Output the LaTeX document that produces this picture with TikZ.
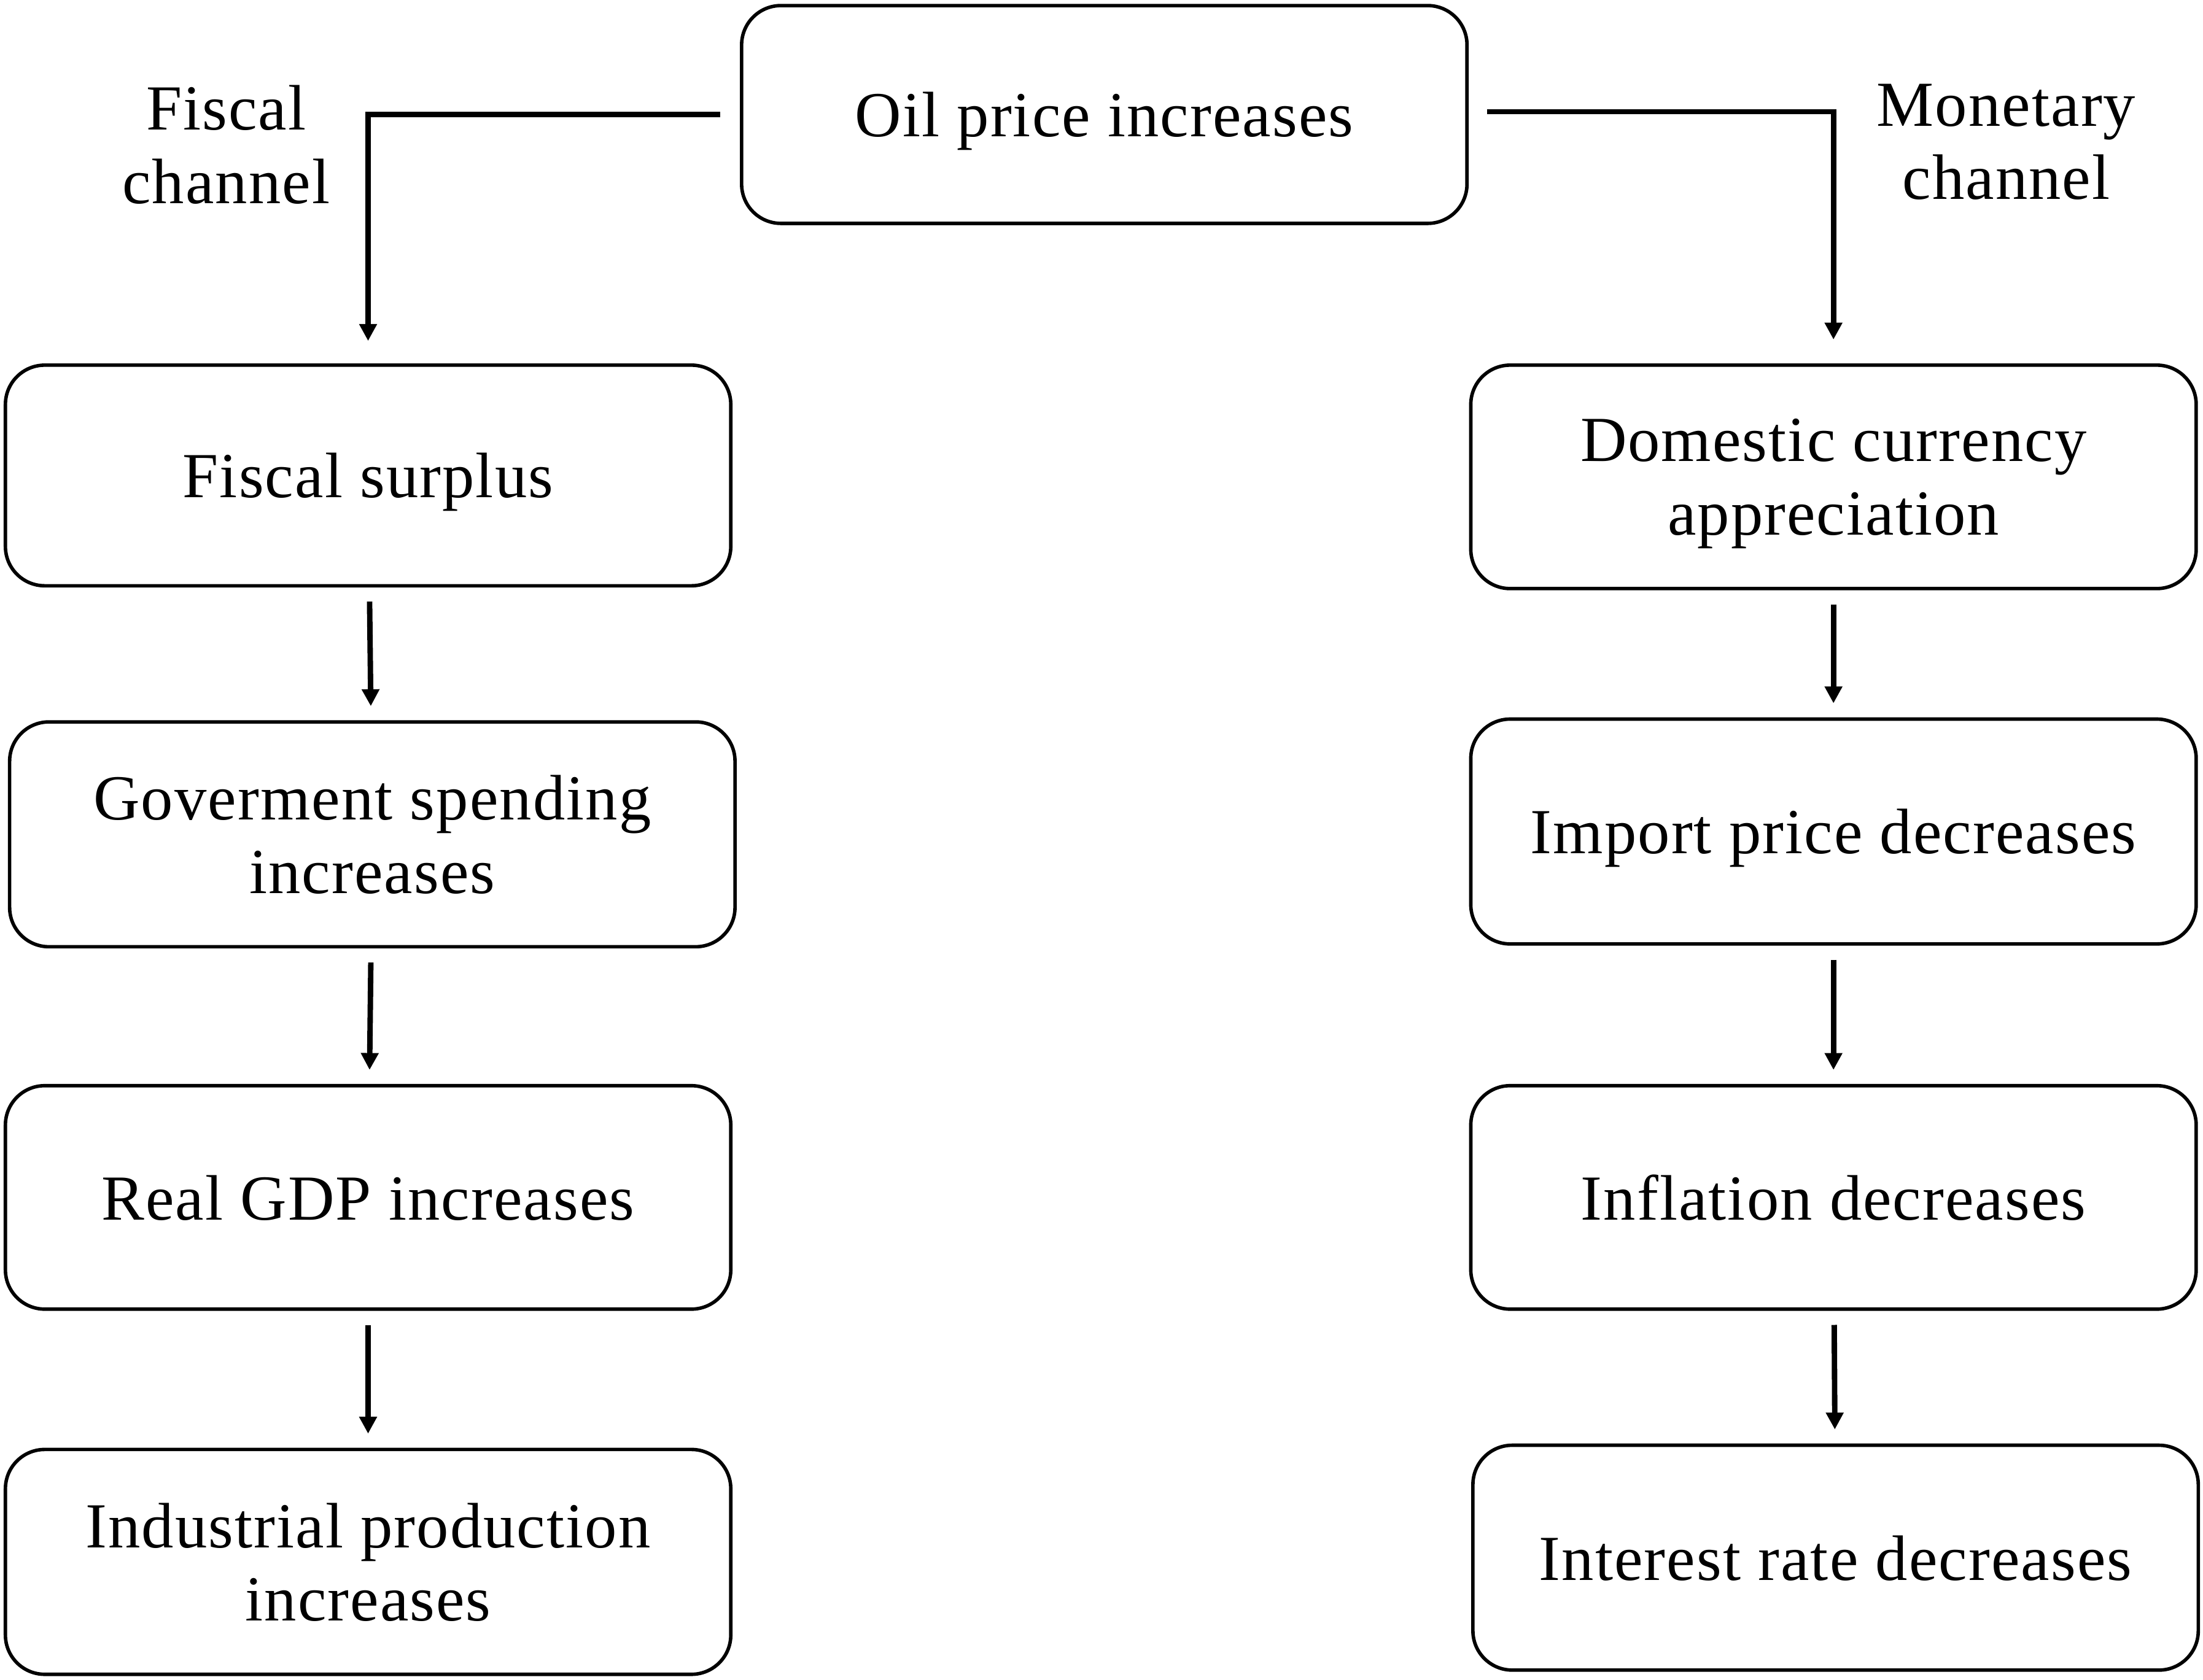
\documentclass[tikz,border=0pt]{standalone}
\usepackage{fontspec}
\setmainfont[LetterSpace=2]{Liberation Serif}
\usetikzlibrary{arrows.meta,calc}
\begin{document}
\begin{tikzpicture}[x=0.01cm,y=-0.01cm,
  every node/.style={font=\fontsize{13}{14.8}\selectfont},
  box/.style={draw,line width=0.7pt,rounded corners=0.28cm,inner sep=0pt,
    minimum width=5.16cm,align=center,text depth=0pt},
  arr/.style={line width=1.1pt,-{Triangle[width=0.12cm,length=0.12cm]}},
  lbl/.style={align=center}]
\useasboundingbox (0,0) rectangle (1568,1196);
\node[box,minimum height=1.55cm] (oil) at (786,81.5) {Oil price increases};
\node[box,minimum height=1.57cm] (fs) at (262,338.5) {Fiscal surplus};
\node[box,minimum height=1.60cm] (gs) at (265,594) {Goverment spending\\increases};
\node[box,minimum height=1.59cm] (gdp) at (262,852.5) {Real GDP increases};
\node[box,minimum height=1.60cm] (ind) at (262,1112) {Industrial production\\increases};
\node[box,minimum height=1.59cm] (dom) at (1305,339.5) {Domestic currency\\appreciation};
\node[box,minimum height=1.60cm] (imp) at (1305,592) {Import price decreases};
\node[box,minimum height=1.59cm] (inf) at (1305,852.5) {Inflation decreases};
\node[box,minimum height=1.60cm] (int) at (1306.5,1109) {Interest rate decreases};
\node[lbl] (fc) at (161,103) {Fiscal\\channel};
\node[lbl] (mc) at (1428,101) {Monetary\\channel};
\draw[arr] ([xshift=-0.14cm]oil.west) -| ([yshift=0.16cm]fs.north);
\draw[arr] ([xshift=0.13cm,yshift=0.02cm]oil.east) -| ([yshift=0.17cm]dom.north);
\draw[arr,shorten <=0.1cm,shorten >=0.1cm] (fs) -- (gs);
\draw[arr,shorten <=0.1cm,shorten >=0.1cm] (gs) -- (gdp);
\draw[arr,shorten <=0.1cm,shorten >=0.1cm] (gdp) -- (ind);
\draw[arr,shorten <=0.1cm,shorten >=0.1cm] (dom) -- (imp);
\draw[arr,shorten <=0.1cm,shorten >=0.1cm] (imp) -- (inf);
\draw[arr,shorten <=0.1cm,shorten >=0.1cm] (inf) -- (int);
\end{tikzpicture}
\end{document}
